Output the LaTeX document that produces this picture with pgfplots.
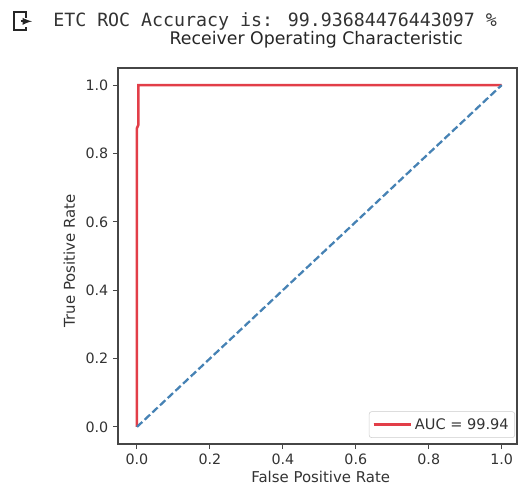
\documentclass[border=0pt]{standalone}
\usepackage{pgfplots}
\pgfplotsset{compat=1.18}
\usepackage{fontspec}
\setmainfont{DejaVu Sans}
\newfontfamily\monofont{DejaVu Sans Mono}

\definecolor{rocred}{RGB}{226,62,72}
\definecolor{diagblue}{RGB}{70,130,180}
\definecolor{framegray}{RGB}{70,70,70}

\begin{document}
\begin{tikzpicture}
% page: axis box lower-left at (0,0), 1px = 0.75pt
\useasboundingbox (-88.5pt,-30.75pt) rectangle (301.5pt,333pt);

% notebook output line
\draw[black!85, line width=1.6pt, line join=miter]
  (-69pt,319.5pt) -- (-69pt,324.1pt) -- (-78pt,324.1pt) -- (-78pt,310.3pt) -- (-69pt,310.3pt) -- (-69pt,313pt);
\draw[black!85, line width=1.4pt, -latex] (-73pt,317pt) -- (-64.5pt,317pt);
\node[anchor=base west, inner sep=0pt, text=black!80]
  at (-48.75pt,313.2pt) {\monofont\fontsize{13.7}{16}\selectfont ETC ROC Accuracy is: 99.93684476443097 \%};

\begin{axis}[
  scale only axis,
  width=299.25pt, height=282pt,
  xmin=-0.052, xmax=1.042,
  ymin=-0.05, ymax=1.05,
  xtick={0,0.2,0.4,0.6,0.8,1},
  ytick={0,0.2,0.4,0.6,0.8,1},
  /pgf/number format/assume math mode=true,
  xticklabel style={/pgf/number format/.cd, fixed, fixed zerofill, precision=1},
  yticklabel style={/pgf/number format/.cd, fixed, fixed zerofill, precision=1},
  tick label style={font=\fontsize{10.7}{12}\selectfont, text=black!80},
  tick align=outside,
  major tick length=3.8pt,
  tick style={framegray, line width=0.8pt},
  xtick pos=bottom, ytick pos=left,
  axis line style={framegray, line width=0.8pt},
  every axis title shift=0pt,
  title={Receiver Operating Characteristic},
  title style={font=\fontsize{13}{15}\selectfont, text=black!85, at={(axis description cs:0.497,1)}, anchor=base, yshift=17.6pt},
  xlabel={False Positive Rate},
  ylabel={True Positive Rate},
  xlabel style={font=\fontsize{11.2}{13}\selectfont, text=black!80, at={(axis description cs:0.508,-0.1037)}, anchor=base},
  ylabel style={font=\fontsize{11.2}{13}\selectfont, text=black!80, at={(axis description cs:-0.1078,0.487)}, anchor=base},
  legend style={at={(axis description cs:0.995,0.016)}, anchor=south east,
    draw=black!20, rounded corners=2pt, fill=white, fill opacity=0.8, text opacity=1,
    font=\fontsize{10.9}{12}\selectfont, text=black!80,
    inner xsep=2.5pt, inner ysep=3pt},
  legend cell align=left,
  legend image code/.code={\draw[#1] (0pt,0pt) -- (23pt,0pt); \path (0pt,0pt) -- (28pt,0pt);},
]
\addplot[rocred, line width=1.9pt] coordinates {
  (0,0) (0,0.874) (0.004,0.884) (0.004,1) (1,1)
};
\addlegendentry{AUC = 99.94}
\addplot[diagblue, line width=1.7pt, dash pattern=on 5.5pt off 2.4pt, forget plot] coordinates {
  (0,0) (1,1)
};
\end{axis}
\end{tikzpicture}
\end{document}
